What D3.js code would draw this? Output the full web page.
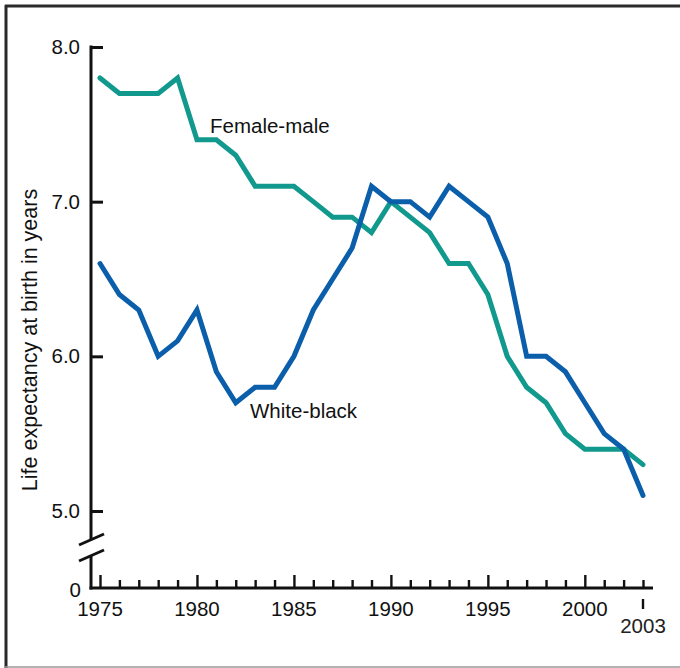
<!DOCTYPE html>
<html>
<head>
<meta charset="utf-8">
<script src="https://cdn.jsdelivr.net/npm/d3@7"></script>
<style>
  html, body { margin: 0; padding: 0; background: #fff; }
  svg { display: block; font-family: "Liberation Sans", Arial, Helvetica, sans-serif; }
</style>
</head>
<body>
<svg id="chart" width="680" height="668"></svg>
<script>
const years = d3.range(1975, 2004);
const femaleMale = [7.8, 7.7, 7.7, 7.7, 7.8, 7.4, 7.4, 7.3, 7.1, 7.1, 7.1, 7.0, 6.9, 6.9, 6.8, 7.0, 6.9, 6.8, 6.6, 6.6, 6.4, 6.0, 5.8, 5.7, 5.5, 5.4, 5.4, 5.4, 5.3];
const whiteBlack = [6.6, 6.4, 6.3, 6.0, 6.1, 6.3, 5.9, 5.7, 5.8, 5.8, 6.0, 6.3, 6.5, 6.7, 7.1, 7.0, 7.0, 6.9, 7.1, 7.0, 6.9, 6.6, 6.0, 6.0, 5.9, 5.7, 5.5, 5.4, 5.1];
const yTicks = [5.0, 6.0, 7.0, 8.0];
const xLabelTicks = [1975, 1980, 1985, 1990, 1995, 2000];
const seriesNames = ["Female-male", "White-black"];
const colors = ["#12998e", "#0b5eaa"];

const svg = d3.select("#chart");
const FS = 20.5;

// frame
svg.append("line").attr("x1", 5).attr("x2", 680).attr("y1", 6).attr("y2", 6).attr("stroke", "#2a2a2a").attr("stroke-width", 3);
svg.append("line").attr("x1", 6).attr("x2", 6).attr("y1", 5).attr("y2", 668).attr("stroke", "#2a2a2a").attr("stroke-width", 3);
svg.append("line").attr("x1", 5).attr("x2", 680).attr("y1", 667).attr("y2", 667).attr("stroke", "#999").attr("stroke-width", 1.5);

const x = d3.scaleLinear().domain([1975, 2003]).range([100, 643]);
const y = d3.scaleLinear().domain([5, 8]).range([511, 47]);
const y0 = 588;
const axisX = 91;
const AW = 3;

// y axis line with break
svg.append("line").attr("x1", axisX).attr("x2", axisX).attr("y1", y(8) - 1.5).attr("y2", 539).attr("stroke", "#111").attr("stroke-width", AW);
svg.append("line").attr("x1", axisX).attr("x2", axisX).attr("y1", 555).attr("y2", y0 + 1.5).attr("stroke", "#111").attr("stroke-width", AW);
[[79, 545, 104, 534], [79, 561, 104, 550]].forEach(d => {
  svg.append("line").attr("x1", d[0]).attr("y1", d[1]).attr("x2", d[2]).attr("y2", d[3]).attr("stroke", "#111").attr("stroke-width", AW);
});

// y ticks via axis
const yAxis = svg.append("g").attr("transform", `translate(${axisX},0)`)
  .call(d3.axisLeft(y).tickValues(yTicks).tickFormat(d3.format(".1f")).tickSize(-12).tickPadding(11));
yAxis.select(".domain").remove();
yAxis.selectAll(".tick line").attr("stroke", "#111").attr("stroke-width", AW);
yAxis.selectAll(".tick text").attr("font-size", FS).attr("fill", "#111").attr("font-family", null);

// zero label
svg.append("text").attr("x", 81).attr("y", y0 + 1).attr("dy", "0.38em").attr("text-anchor", "end")
  .attr("font-size", FS).attr("fill", "#111").text("0");

// x axis
svg.append("line").attr("x1", axisX - 1.5).attr("x2", 653).attr("y1", y0).attr("y2", y0).attr("stroke", "#111").attr("stroke-width", AW);
const xAxis = svg.append("g").attr("transform", `translate(0,${y0})`)
  .call(d3.axisBottom(x).tickValues(years).tickSize(-8).tickFormat(""));
xAxis.select(".domain").remove();
xAxis.selectAll(".tick line").attr("stroke", "#111").attr("stroke-width", 2.4)
  .attr("y2", d => xLabelTicks.includes(d) ? -13 : -8);
xLabelTicks.forEach(d => {
  svg.append("text").attr("x", x(d)).attr("y", 616).attr("text-anchor", "middle")
    .attr("font-size", FS).attr("fill", "#111").text(d);
});
// 2003 special tick + label
svg.append("line").attr("x1", x(2003)).attr("x2", x(2003)).attr("y1", 599).attr("y2", 609).attr("stroke", "#111").attr("stroke-width", 2.4);
svg.append("text").attr("x", x(2003)).attr("y", 633).attr("text-anchor", "middle")
  .attr("font-size", FS).attr("fill", "#222").text(2003);

// y title
svg.append("text").attr("transform", "translate(37,340) rotate(-90)").attr("text-anchor", "middle")
  .attr("font-size", 21.5).attr("fill", "#111").text("Life expectancy at birth in years");

// lines
const line = d3.line().x((d, i) => x(years[i])).y(d => y(d));
[femaleMale, whiteBlack].forEach((s, k) => {
  svg.append("path").datum(s).attr("d", line).attr("fill", "none")
    .attr("stroke", colors[k]).attr("stroke-width", 5).attr("stroke-linejoin", "miter").attr("stroke-linecap", "round");
});

// labels
svg.append("text").attr("x", 210).attr("y", 133).attr("font-size", FS).attr("fill", "#111").text(seriesNames[0]);
svg.append("text").attr("x", 250).attr("y", 418).attr("font-size", FS).attr("fill", "#111").text(seriesNames[1]);
</script>
</body>
</html>
